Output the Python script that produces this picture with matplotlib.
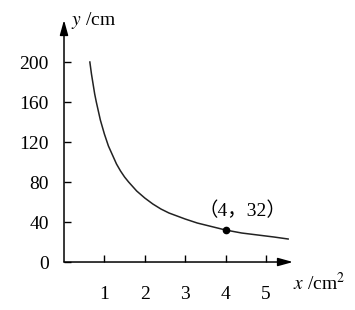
import matplotlib
matplotlib.use("Agg")
import matplotlib.pyplot as plt

# Data
curve_x = [0.64, 0.68, 0.72, 0.76, 0.8, 0.85, 0.9, 0.95, 1.0, 1.1, 1.2, 1.3, 1.4, 1.5, 1.6, 1.8,
           2.0, 2.2, 2.4, 2.6, 2.8, 3.0, 3.3, 3.6, 4.0, 4.4, 4.8, 5.2, 5.55]
curve_y = [200, 188, 178, 168, 160, 151, 142, 135, 128, 116, 107, 98, 91, 85, 80, 71,
           64, 58, 53, 49, 46, 43, 39, 36, 32, 29, 27, 25, 23]
point_x = [4]
point_y = [32]
point_label = "（4，32）"
x_ticks = [1, 2, 3, 4, 5]
y_ticks = [0, 40, 80, 120, 160, 200]

plt.rcParams['mathtext.fontset'] = 'stix'
serif = ['Liberation Serif', 'Noto Sans CJK SC', 'DejaVu Sans']

fig = plt.figure(figsize=(3.55, 3.10), dpi=100)
ax = fig.add_axes([0.1803, 0.1548, 0.645, 0.7806])
ax.set_xlim(0, 5.67)
ax.set_ylim(0, 242)

for s in ax.spines.values():
    s.set_visible(False)

ax.annotate('', xy=(1, 0), xytext=(0, 0), xycoords='axes fraction',
            arrowprops=dict(arrowstyle='-|>,head_length=0.9,head_width=0.25', lw=1.1,
                            color='black', shrinkA=0, shrinkB=0))
ax.annotate('', xy=(0, 1), xytext=(0, 0), xycoords='axes fraction',
            arrowprops=dict(arrowstyle='-|>,head_length=0.9,head_width=0.25', lw=1.1,
                            color='black', shrinkA=0, shrinkB=0))

ax.plot(curve_x, curve_y, color='#222222', lw=1.1)
ax.plot(point_x, point_y, 'o', color='black', ms=4.5)
ax.text(point_x[0] + 0.42, point_y[0] + 14, point_label, ha='center', va='baseline',
        fontsize=14, family=serif)

ax.set_xticks(x_ticks)
ax.set_yticks(y_ticks)
ax.set_xticklabels([str(v) for v in x_ticks], family=serif, fontsize=14)
ax.set_yticklabels([str(v) for v in y_ticks], family=serif, fontsize=14)
ax.tick_params(axis='x', direction='in', length=5, width=1, pad=17)
ax.tick_params(axis='y', direction='in', length=5, width=1, pad=11)

ax.text(0.03, 1.0, '$y$ /cm', transform=ax.transAxes, ha='left', va='center',
        fontsize=14, family=serif)
ax.text(1.0, -0.085, '$x$ /cm$^2$', transform=ax.transAxes, ha='left', va='center',
        fontsize=14, family=serif)

fig.savefig('out.png', dpi=100)
